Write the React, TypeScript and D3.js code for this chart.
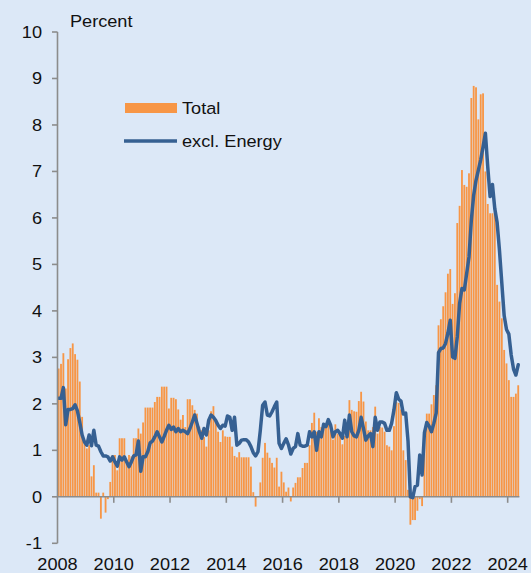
import React from 'react';
import * as d3 from 'd3';

// monthly, Jan 2008 - May 2024
const total = [
  2.76, 2.86, 3.09, 2.33, 2.96, 3.2, 3.3, 3.07, 2.95, 2.48, 1.72, 1.22, // 2008
  1.04, 1.11, 0.44, 0.68, 0.09, 0.09, -0.47, 0.09, -0.34, -0.05, 0.32, 0.9, // 2009
  0.9, 0.57, 1.26, 1.26, 1.26, 0.72, 0.9, 0.87, 1.26, 1.26, 1.47, 1.36, // 2010
  1.6, 1.92, 1.92, 1.92, 1.92, 2.04, 2.15, 2.15, 2.37, 2.37, 2.37, 1.9, // 2011
  2.13, 2.13, 2.1, 1.88, 1.66, 1.76, 1.5, 2.1, 2.1, 1.97, 1.87, 1.79, // 2012
  1.51, 1.43, 1.29, 1.08, 1.43, 1.84, 1.95, 1.61, 1.4, 1.18, 1.43, 1.3, // 2013
  1.29, 1.29, 1.08, 0.88, 0.85, 0.96, 0.85, 0.85, 0.85, 0.85, 0.65, 0.1, // 2014
  -0.21, 0.0, 0.31, 0.84, 1.16, 0.95, 0.84, 0.73, 0.63, 0.84, 0.22, 0.54, // 2015
  0.31, 0.11, 0.2, -0.1, 0.2, 0.3, 0.42, 0.42, 0.62, 0.73, 0.73, 1.11, // 2016
  1.59, 1.81, 1.4, 1.69, 1.5, 1.58, 1.56, 1.61, 1.43, 1.23, 1.56, 1.36, // 2017
  1.35, 1.13, 1.31, 1.56, 2.08, 1.87, 1.84, 1.83, 2.06, 2.26, 2.05, 1.62, // 2018
  1.43, 1.43, 1.5, 1.94, 1.36, 1.5, 1.49, 1.4, 1.11, 1.08, 1.0, 1.52, // 2019
  2.04, 2.02, 1.88, 1.0, 0.79, 0.15, -0.6, -0.5, -0.5, -0.3, -0.05, -0.2, // 2020
  1.43, 1.79, 1.79, 1.99, 2.19, 2.4, 3.69, 3.82, 4.1, 4.4, 4.8, 4.9, // 2021
  4.15, 4.38, 5.89, 6.26, 7.03, 6.71, 6.67, 6.96, 8.58, 8.84, 8.81, 8.12, // 2022
  8.66, 8.68, 7.0, 6.3, 6.1, 6.1, 6.15, 4.56, 4.2, 3.84, 3.16, 2.87, // 2023
  2.51, 2.15, 2.15, 2.22, 2.4, // 2024
];

const exEnergy = [
  2.12, 2.12, 2.35, 1.55, 1.88, 1.88, 1.9, 1.98, 1.85, 1.6, 1.33, 1.18, // 2008
  1.11, 1.33, 1.1, 1.43, 1.11, 1.09, 0.97, 0.88, 0.88, 0.86, 0.77, 0.86, // 2009
  0.75, 0.66, 0.86, 0.79, 0.86, 0.75, 0.65, 0.75, 0.88, 0.9, 1.2, 0.55, // 2010
  0.86, 0.86, 0.97, 1.16, 1.2, 1.29, 1.4, 1.29, 1.18, 1.3, 1.43, 1.54, // 2011
  1.45, 1.5, 1.4, 1.47, 1.4, 1.43, 1.4, 1.36, 1.47, 1.61, 1.76, 1.58, // 2012
  1.4, 1.26, 1.47, 1.33, 1.65, 1.76, 1.71, 1.64, 1.54, 1.47, 1.54, 1.52, // 2013
  1.74, 1.71, 1.43, 1.71, 1.11, 1.15, 1.22, 1.23, 1.23, 1.18, 1.08, 0.95, // 2014
  0.88, 0.97, 1.43, 1.97, 2.04, 1.76, 1.74, 1.83, 1.94, 2.04, 1.15, 1.04, // 2015
  1.15, 1.25, 1.12, 0.92, 1.04, 1.08, 1.36, 1.11, 1.09, 1.09, 1.11, 1.4, // 2016
  1.29, 1.4, 1.0, 1.4, 1.29, 1.56, 1.51, 1.66, 1.54, 1.29, 1.4, 1.43, // 2017
  1.36, 1.26, 1.65, 1.29, 1.76, 1.4, 1.31, 1.29, 1.43, 1.71, 1.47, 1.22, // 2018
  1.31, 1.36, 1.08, 1.71, 1.43, 1.61, 1.61, 1.58, 1.43, 1.43, 1.58, 1.87, // 2019
  2.24, 2.1, 2.06, 1.78, 1.8, 1.2, 0.0, -0.02, 0.22, 0.25, 0.9, 0.47, // 2020
  1.38, 1.6, 1.52, 1.4, 1.58, 1.8, 3.1, 3.19, 3.2, 3.3, 3.52, 3.8, // 2021
  3.01, 2.98, 3.44, 4.16, 4.48, 4.45, 4.8, 5.16, 5.95, 6.49, 6.81, 7.03, // 2022
  7.25, 7.53, 7.82, 7.1, 6.46, 6.72, 6.2, 5.9, 5.3, 4.6, 3.9, 3.6, // 2023
  3.5, 3.05, 2.75, 2.62, 2.84, // 2024
];

const yTicks = [-1, 0, 1, 2, 3, 4, 5, 6, 7, 8, 9, 10];
const yearTicks = [2008, 2010, 2012, 2014, 2016, 2018, 2020, 2022, 2024];
const legendLabels = ['Total', 'excl. Energy'];

const W = 531;
const H = 573;
const BG = '#dce8f7';
const ORANGE = '#f79646';
const BLUE = '#366092';
const AXIS = '#8c8c8c';
const FONT = '"Liberation Sans", Arial, sans-serif';

// text in the original looks a bit stretched horizontally
const Label = ({ x, y, anchor = 'start', children }: any) => (
  <text
    transform={`translate(${x},${y}) scale(1.1,1)`}
    textAnchor={anchor}
    fontFamily={FONT}
    fontSize={16.5}
    fill="#111"
  >
    {children}
  </text>
);

export default function App() {
  const left = 57.5;
  const right = 519.4;
  const months = d3.range(total.length);
  const pad = 0.22;

  const x = d3.scaleBand<number>()
    .domain(months)
    .range([left, right])
    .paddingInner(pad)
    .paddingOuter(pad / 2);
  const y = d3.scaleLinear().domain([-1, 10]).range([543.3, 32]);

  const slot = (k: number) => (x(k) as number) - (x.step() - x.bandwidth()) / 2;
  const yearX = (yr: number) => slot((yr - 2008) * 12);

  const line = d3.line<number>()
    .x((d, i) => (x(i) as number) + x.bandwidth() / 2)
    .y(d => y(d))
    .curve(d3.curveLinear);

  const y0 = y(0);

  return (
    <svg
      width={W}
      height={H}
      style={{ position: 'fixed', left: 0, top: 0, background: BG }}
    >
      <rect x={0} y={0} width={W} height={H} fill={BG} />

      {/* bars */}
      <g>
        {total.map((v, i) => (
          <rect
            key={i}
            x={x(i)}
            y={Math.min(y(v), y0)}
            width={x.bandwidth()}
            height={Math.abs(y(v) - y0)}
            fill={ORANGE}
          />
        ))}
      </g>

      {/* x axis at zero */}
      <line x1={left} x2={right} y1={y0} y2={y0} stroke={AXIS} strokeWidth={1.6} />
      {yearTicks.slice(1).map(yr => (
        <line key={yr} x1={yearX(yr)} x2={yearX(yr)} y1={y0} y2={y0 + 6} stroke={AXIS} strokeWidth={1.6} />
      ))}

      {/* line */}
      <path
        d={line(exEnergy) || ''}
        fill="none"
        stroke={BLUE}
        strokeWidth={3.5}
        strokeLinejoin="round"
        strokeLinecap="round"
      />

      {/* y axis */}
      <line x1={left} x2={left} y1={y(10)} y2={y(-1)} stroke={AXIS} strokeWidth={1.6} />
      {yTicks.map(t => (
        <g key={t}>
          <line x1={left - 5.5} x2={left} y1={y(t)} y2={y(t)} stroke={AXIS} strokeWidth={1.6} />
          <Label x={42} y={y(t) + 6} anchor="end">{t}</Label>
        </g>
      ))}

      {yearTicks.map(yr => (
        <Label key={yr} x={yearX(yr)} y={570} anchor="middle">{yr}</Label>
      ))}

      <Label x={70} y={27}>Percent</Label>

      {/* legend */}
      <rect x={125} y={103} width={52} height={10} fill={ORANGE} />
      <Label x={182} y={114}>{legendLabels[0]}</Label>
      <line x1={124} x2={177} y1={141} y2={141} stroke={BLUE} strokeWidth={3.5} />
      <Label x={182} y={147}>{legendLabels[1]}</Label>
    </svg>
  );
}
